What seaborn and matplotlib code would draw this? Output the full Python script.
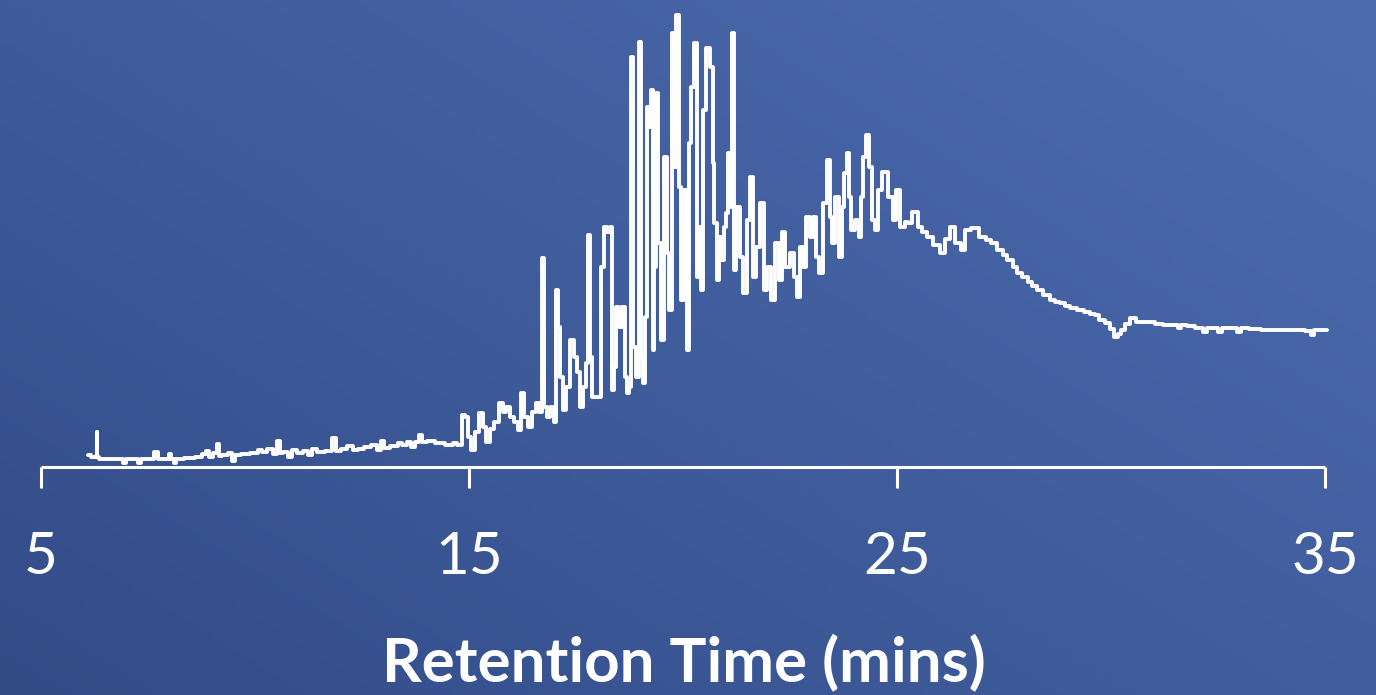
import numpy as np
import matplotlib
matplotlib.use("Agg")
import matplotlib.pyplot as plt
import seaborn as sns

# Chromatogram trace: retention time (min) and detector signal (arb. units)
retention_time = [
    6.10, 6.24, 6.29, 6.31, 6.33, 6.38, 6.61, 6.85, 6.96, 7.01, 7.20, 7.31, 7.36, 7.55,
    7.71, 7.78, 7.97, 8.01, 8.08, 8.13, 8.20, 8.48, 8.71, 8.83, 8.88, 8.95, 9.07, 9.14,
    9.18, 9.30, 9.42, 9.49, 9.56, 9.77, 10.00, 10.12, 10.23, 10.35, 10.47, 10.56, 10.61,
    10.70, 10.82, 10.89, 11.05, 11.17, 11.29, 11.36, 11.52, 11.75, 11.87, 11.92, 12.10,
    12.22, 12.34, 12.45, 12.64, 12.80, 12.92, 12.99, 13.06, 13.27, 13.39, 13.50, 13.62,
    13.69, 13.79, 13.86, 13.93, 14.09, 14.32, 14.56, 14.67, 14.79,
    14.86, 14.95, 15.02, 15.09, 15.19, 15.30, 15.37, 15.44, 15.54, 15.63, 15.75, 15.84,
    15.91, 16.00, 16.10, 16.19, 16.26, 16.33, 16.43, 16.52, 16.61, 16.68, 16.73, 16.78,
    16.85, 16.94, 17.01, 17.06, 17.10, 17.15, 17.24, 17.31, 17.41, 17.48, 17.55, 17.64,
    17.71, 17.76, 17.80, 17.85, 17.92, 18.01, 18.06, 18.13, 18.20, 18.27, 18.34, 18.36,
    18.41, 18.46, 18.53, 18.60, 18.67, 18.71, 18.76, 18.81, 18.86, 18.93, 19.00, 19.04,
    19.07, 19.14, 19.18, 19.23, 19.28, 19.30, 19.35, 19.39, 19.46, 19.53, 19.58, 19.65,
    19.70, 19.77, 19.81, 19.86, 19.93, 19.98, 20.05, 20.12, 20.16, 20.23, 20.30, 20.35,
    20.40, 20.44, 20.51, 20.58, 20.68, 20.70, 20.75, 20.82, 20.86, 20.93, 20.98, 21.03,
    21.07, 21.12, 21.17, 21.21, 21.29, 21.36, 21.45, 21.52, 21.61, 21.68, 21.75, 21.85,
    21.92, 22.01, 22.10, 22.20, 22.27, 22.34, 22.43, 22.55, 22.62, 22.69, 22.78, 22.85,
    22.92, 23.01, 23.08, 23.15, 23.20, 23.32, 23.41, 23.46, 23.50, 23.60, 23.67, 23.74,
    23.79, 23.86, 23.90, 23.95, 24.07, 24.14, 24.18, 24.25, 24.30, 24.37, 24.44, 24.53,
    24.60, 24.72, 24.84, 24.95, 25.02, 25.14, 25.23, 25.30, 25.42, 25.54, 25.65, 25.77,
    25.93, 26.07, 26.19, 26.29, 26.43, 26.54, 26.66, 26.82, 27.01, 27.13, 27.24, 27.41,
    27.52, 27.64, 27.76, 27.87, 27.99, 28.11, 28.22, 28.34, 28.50, 28.64, 28.76, 28.88,
    28.99, 29.11, 29.28, 29.44, 29.56, 29.67, 29.79, 29.91, 30.02, 30.14, 30.21, 30.28,
    30.37, 30.51, 30.68, 30.91, 31.14, 31.31, 31.50, 31.61, 31.68, 31.85, 32.08, 32.20,
    32.27, 32.43, 32.55, 32.62, 32.90, 33.01, 33.08, 33.36, 33.64, 33.95, 34.18, 34.42,
    34.65, 34.70, 34.77, 35.05,
]
signal = [
    12, 10, 10, 35, 10, 8, 8, 8, 4, 8, 8, 4, 8, 8,
    15, 8, 8, 13, 8, 4, 8, 9, 10, 13, 16, 10, 14, 23,
    11, 12, 14, 6, 12, 13, 14, 17, 15, 18, 13, 26, 14,
    15, 10, 17, 14, 16, 12, 18, 15, 16, 29, 16, 18,
    21, 17, 18, 20, 22, 17, 26, 19, 21, 24, 22, 25,
    20, 25, 32, 25, 26, 24, 22, 24, 22,
    52, 50, 30, 17, 35, 54, 40, 25, 38, 45, 64, 55,
    60, 50, 45, 37, 74, 50, 40, 55, 64, 55, 209, 60,
    50, 60, 45, 177, 140, 90, 57, 80, 127, 110, 95, 60,
    80, 104, 232, 110, 70, 70, 70, 200, 240, 235, 240, 77,
    100, 160, 140, 160, 90, 74, 80, 410, 120, 90, 425, 110,
    84, 150, 360, 340, 377, 117, 200, 374, 224, 127, 310, 214,
    157, 434, 300, 452, 280, 167, 277, 117, 324, 380, 424, 190,
    240, 177, 357, 419, 400, 304, 244, 187, 230, 207, 240, 254,
    314, 260, 434, 197, 260, 210, 174, 247, 290, 190, 220, 264,
    177, 200, 167, 224, 187, 235, 200, 214, 190, 170, 220, 200,
    250, 230, 250, 210, 194, 264, 307, 250, 224, 270, 210, 260,
    294, 314, 270, 237, 247, 230, 270, 310, 332, 300, 247, 237,
    277, 295, 270, 247, 277, 240, 245, 244, 255, 240, 235, 230,
    222, 214, 228, 240, 224, 217, 237, 239, 230, 227, 224, 217,
    212, 207, 200, 194, 190, 185, 181, 177, 172, 167, 165, 164,
    161, 159, 157, 155, 153, 152, 147, 144, 138, 130, 133, 137,
    143, 149, 145, 145, 143, 142, 142, 139, 142, 141, 139, 135,
    139, 139, 135, 139, 139, 135, 139, 138, 137, 137, 137, 137,
    136, 132, 137, 137,
]
tick_values = [5, 15, 25, 35]
tick_labels = ["5", "15", "25", "35"]
x_label = "Retention Time (mins)"

W, H, DPI = 1376, 695, 100
fig = plt.figure(figsize=(W / DPI, H / DPI), dpi=DPI)

# Diagonal blue gradient behind everything
bg = fig.add_axes([0, 0, 1, 1], zorder=0)
gy, gx = np.mgrid[0:1:200j, 0:1:400j]
w = (gx * 0.55 + (1 - gy) * 0.45)
c0 = np.array([50, 76, 136]) / 255.0
c1 = np.array([77, 109, 176]) / 255.0
img = c0[None, None, :] * (1 - w[..., None]) + c1[None, None, :] * w[..., None]
bg.imshow(img, aspect="auto", extent=[0, 1, 0, 1], origin="upper")
bg.set_axis_off()

sns.set_style("white")
ax = fig.add_axes([0, (H - 467) / H, 1, 467 / H], zorder=1)
ax.patch.set_alpha(0)

sns.lineplot(x=retention_time, y=signal, ax=ax, color="white", linewidth=2.8,
             estimator=None, sort=False, drawstyle="steps-mid")

ax.set_xlim(5 - 41 / 42.8, 5 + (W - 41) / 42.8)
ax.set_ylim(0, 467)

for s in ["top", "right", "left"]:
    ax.spines[s].set_visible(False)
ax.spines["bottom"].set_color("white")
ax.spines["bottom"].set_linewidth(2.2)
ax.spines["bottom"].set_bounds(5, 35)
ax.spines["bottom"].set_capstyle("butt")
ax.set_yticks([])
ax.set_xticks(tick_values)
ax.set_xticklabels(tick_labels, family=["Lato", "DejaVu Sans"], fontweight="normal",
                   fontsize=42, color="white")
ax.tick_params(axis="x", bottom=True, direction="out", length=15, width=2.2,
               color="white", pad=31)
ax.set_xlabel("")

fig.text(684 / W, 14 / H, x_label, ha="center", va="baseline", color="white",
         fontsize=44.5, fontweight="bold", family=["Lato", "DejaVu Sans"])

fig.savefig("out.png", dpi=DPI)
